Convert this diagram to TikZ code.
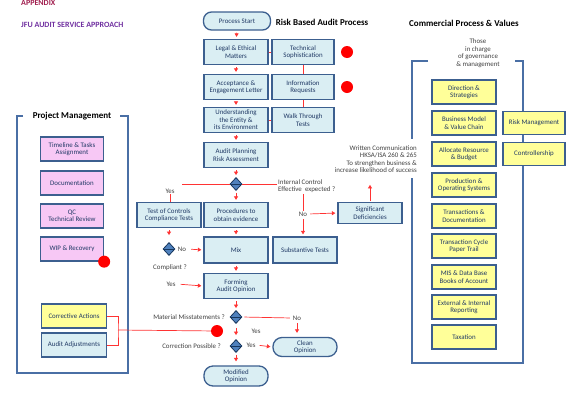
\documentclass[tikz,border=0pt]{standalone}
\usepackage{fontspec}
\setmainfont{Carlito}
\usetikzlibrary{shapes.geometric,arrows.meta}

\definecolor{boxblue}{HTML}{DAEEF3}
\definecolor{boxline}{HTML}{3C5F8F}
\definecolor{boxyellow}{HTML}{FFFF99}
\definecolor{boxpink}{HTML}{F7C8F5}
\definecolor{framecol}{HTML}{4A6FA5}
\definecolor{navytxt}{HTML}{1F3864}
\definecolor{greytxt}{HTML}{404040}
\definecolor{decfill}{HTML}{4F81BD}
\definecolor{decline}{HTML}{17375E}
\definecolor{appxcol}{HTML}{A01E4E}
\definecolor{jfucol}{HTML}{7030A0}

\newcommand\boxfont{\fontsize{6.9}{7.5}\selectfont}
\newcommand\headfont{\fontsize{9}{10}\selectfont\bfseries}

\begin{document}
\begin{tikzpicture}[x=1pt, y=-1pt,
    box/.style={draw=boxline, line width=1.3pt, fill=boxblue, text=navytxt,
        minimum width=64, minimum height=25, inner sep=1pt, align=center, font=\boxfont},
    ybox/.style={box, fill=boxyellow},
    pbox/.style={box, fill=boxpink},
    pill/.style={box, rounded corners=8pt},
    dec/.style={diamond, draw=decline, line width=0.8pt, fill=decfill,
        minimum width=12, minimum height=13, inner sep=0pt,
        path picture={\draw[decline, line width=0.5pt] (path picture bounding box.west) -- (path picture bounding box.east);}},
    dot/.style={circle, fill=red, minimum size=12, inner sep=0pt},
    note/.style={text=greytxt, font=\boxfont, inner sep=1pt},
    redline/.style={draw=red!80, line width=0.7pt},
    redarrow/.style={redline, -{Triangle[length=3.5pt, width=4pt]}, shorten <=2pt, shorten >=2pt},
    frame/.style={draw=framecol, line width=1.4pt},
    head/.style={font=\headfont, inner sep=1pt}]

    % Marco fijo de la hoja
    \useasboundingbox (0,0) rectangle (580,410);

    % Titulos
    \node[head, anchor=west, text=appxcol, font=\fontsize{8}{9}\selectfont\bfseries] (appx) at (20,3) {APPENDIX};
    \node[head, anchor=west, text=jfucol, font=\fontsize{8}{9}\selectfont\bfseries] (jfu) at (20,25) {JFU AUDIT SERVICE APPROACH};
    \node[head] (rbap) at (322,22) {Risk Based Audit Process};
    \node[head] (cpv) at (464,23) {Commercial Process \& Values};

    % Proceso de auditoria
    \node[pill, minimum width=67, minimum height=18] (start) at (237,21) {Process Start};
    \node[box] (legal) at (236,52) {Legal \& Ethical\\Matters};
    \node[box, minimum width=62] (tech) at (303,52) {Technical\\Sophistication};
    \node[box] (accept) at (236,87) {Acceptance \&\\Engagement Letter};
    \node[box, minimum width=62] (info) at (303,87) {Information\\Requests};
    \node[box] (underst) at (236,120) {Understanding\\the Entity \&\\its Environment};
    \node[box, minimum width=62] (walk) at (303,120) {Walk Through\\Tests};
    \node[box] (plan) at (236,155) {Audit Planning\\Risk Assessment};
    \node[dec] (dec1) at (236,184) {};
    \node[box] (toc) at (169,215) {Test of Controls\\Compliance Tests};
    \node[box] (proc) at (236,215) {Procedures to\\obtain evidence};
    \node[box, minimum height=21] (sig) at (370,213) {Significant\\Deficiencies};
    \node[box, minimum height=26] (mix) at (236,250) {Mix};
    \node[box, minimum height=26] (subst) at (305,250) {Substantive Tests};
    \node[dec] (dec0) at (169,249) {};
    \node[box] (form) at (236,286) {Forming\\Audit Opinion};
    \node[dec] (dec2) at (236,317) {};
    \node[dec] (dec3) at (236,346) {};
    \node[pill, minimum height=19, rounded corners=9pt] (clean) at (305,347) {Clean\\Opinion};
    \node[pill, minimum height=20, rounded corners=9pt] (modif) at (236,376) {Modified\\Opinion};

    % Puntos rojos
    \node[dot] (dot1) at (347,52) {};
    \node[dot] (dot2) at (347,87) {};
    \node[dot] (dot3) at (217,331) {};

    % Textos sueltos
    \node[note, anchor=west, align=left] (ictxt) at (277,186) {Internal Control\\Effective\ \ expected ?};
    \node[note] (yes1) at (170,191) {Yes};
    \node[note] (no1) at (303,214) {No};
    \node[note] (no2) at (182,249) {No};
    \node[note] (comp) at (170,268) {Compliant ?};
    \node[note] (yes2) at (171,284) {Yes};
    \node[note, anchor=east] (mm) at (226,317) {Material Misstatements ?};
    \node[note] (no3) at (297,318) {No};
    \node[note] (yes3) at (256,331) {Yes};
    \node[note, anchor=east] (cp) at (222,346) {Correction Possible ?};
    \node[note] (yes4) at (251,345) {Yes};
    \node[note, anchor=east, align=right] (wc) at (418,159) {Written Communication\\HKSA/ISA 260 \& 265\\To strengthen business \&\\increase likelihood of success};
    \node[note, align=center] (tic) at (478,53) {Those\\in charge\\of governance\\\& management};

    % Flechas principales
    \draw[redarrow] (start) -- (legal);
    \draw[redarrow] (legal) -- (accept);
    \draw[redarrow] (accept) -- (underst);
    \draw[redarrow] (underst) -- (plan);
    \draw[redarrow] (plan) -- (dec1);
    \draw[redarrow] (dec1) -- (proc);
    \draw[redarrow] (proc) -- (mix);
    \draw[redarrow] (mix) -- (form);
    \draw[redarrow] (form) -- (dec2);
    \draw[redarrow, shorten <=4pt, shorten >=4pt] (dec2) -- (dec3);
    \draw[redarrow, shorten >=4pt] (dec3) -- (modif);

    % Lineas de la columna derecha
    \draw[redline] (legal) -- (tech);
    \draw[redline] (tech) -- (info);
    \draw[redline] (info) -- (walk);
    \draw[redline] (underst) -- (walk);

    % Control interno
    \coordinate (icl) at (182,184);
    \draw[redline] (icl) -- (dec1.west);
    \draw[redline] (dec1.east) -- (dec1 -| ictxt.west);
    \draw[redline] (yes1.south) -- (toc.north -| yes1);
    \draw[redline] (no1 |- ictxt.south) -- (no1.north);
    \draw[redarrow] (no1.south) -- (no1 |- subst.north);
    \draw[redarrow, shorten <=2pt] (no1.east) -- (sig.west);
    \draw[redarrow, shorten <=1pt, shorten >=11pt] (sig.north) -- (sig.north |- wc.south);
    \draw[redarrow, shorten >=7pt] (toc) -- (dec0);
    \draw[redarrow, shorten <=4pt] (no2.east) -- (mix.west);
    \draw[redarrow, shorten <=4pt] (yes2.east) -- (form.west);

    % Opinion
    \draw[redline, shorten <=2pt, shorten >=2pt] (dec2.east) -- (no3.west);
    \draw[redarrow, shorten >=4pt] (no3.south) -- (no3 |- clean.north);
    \draw[redarrow, shorten <=3pt] (yes4.east) -- (clean.west);

    % Project Management
    \draw[frame] (23,116) -- (17,116) -- (17,373) -- (128,373) -- (128,116) -- (120,116);
    \node[head] (pm) at (72,116) {Project Management};
    \node[pbox, minimum width=63, minimum height=24] (tta) at (72,149) {Timeline \& Tasks\\Assignment};
    \node[pbox, minimum width=63, minimum height=24] (doc) at (72,183) {Documentation};
    \node[pbox, minimum width=63, minimum height=24] (qc) at (72,216) {QC\\Technical Review};
    \node[pbox, minimum width=63, minimum height=24] (wip) at (72,249) {WIP \& Recovery};
    \node[dot] (dot4) at (wip.south east) {};
    \node[ybox, minimum width=65, minimum height=24] (corr) at (74,316) {Corrective Actions};
    \node[box, minimum width=65, minimum height=24] (adj) at (74,345) {Audit Adjustments};
    \coordinate (brk) at (118,330);
    \draw[redline] (corr.east) -| (brk) |- (adj.east);
    \draw[redline] (brk) -- (dot3);

    % Commercial Process & Values
    \coordinate (rx) at (523,0);
    \node[ybox, minimum width=62, minimum height=23] (risk) at (534,123) {Risk Management};
    \node[ybox, minimum width=62, minimum height=23] (ctrl) at (534,154) {Controllership};
    \draw[frame] (428,61) -- (412,61) -- (412,139);
    \draw[frame] (412,178) -- (412,363) -- (rx |- 0,363) -- (rx |- ctrl.south);
    \draw[frame] (515,61) -- (rx |- 0,61) -- (rx |- risk.north);
    \draw[frame] (rx |- risk.south) -- (rx |- ctrl.north);
    \foreach \nm/\yy/\txt in {dir/92/{Direction \&\\Strategies},
                              bmod/123/{Business Model\\\& Value Chain},
                              alloc/154/{Allocate Resource\\\& Budget},
                              prod/185/{Production \&\\Operating Systems},
                              trans/216/{Transactions \&\\Documentation},
                              cycle/246/{Transaction Cycle\\Paper Trail},
                              mis/277/{MIS \& Data Base\\Books of Account},
                              rep/307/{External \& Internal\\Reporting},
                              tax/337/{Taxation}}
        \node[ybox, minimum height=24] (\nm) at (464,\yy) {\txt};
\end{tikzpicture}
\end{document}
